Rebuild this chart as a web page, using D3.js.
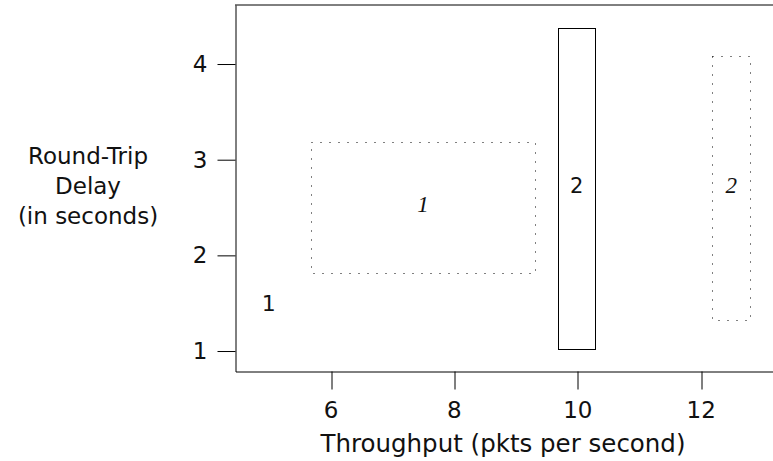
<!DOCTYPE html>
<html>
<head>
<meta charset="utf-8">
<script src="https://cdn.jsdelivr.net/npm/d3@7"></script>
<style>
  html, body { margin: 0; padding: 0; background: #fff; }
  svg { display: block; }
  text { font-family: "DejaVu Sans", sans-serif; fill: #111; }
</style>
</head>
<body>
<svg id="chart" width="773" height="461"></svg>
<script>
// ---- data ----
const xTicks = [6, 8, 10, 12];
const yTicks = [1, 2, 3, 4];
const xTitle = "Throughput (pkts per second)";
const yTitle = ["Round-Trip", "Delay", "(in seconds)"];

// regions: throughput range [x0,x1], delay range [y0,y1]
const regionLabels = ["1", "2", "2"];
const regionX0 = [5.69, 9.69, 12.19];
const regionX1 = [9.31, 10.29, 12.80];
const regionY0 = [1.82, 1.02, 1.32];
const regionY1 = [3.19, 4.38, 4.08];
const regionStyle = ["dotted", "solid", "dotted"];

// single labelled point
const pointLabels = ["1"];
const pointX = [5.0];
const pointY = [1.5];

// ---- drawing ----
const svg = d3.select("#chart");
const x = d3.scaleLinear().domain([4.46, 13.18]).range([235.5, 773.5]);
const y = d3.scaleLinear().domain([0.786, 4.617]).range([371.5, 5]);
const px = v => Math.round(x(v)) + 0.5;
const py = v => Math.round(y(v)) + 0.5;

// top frame line
svg.append("line")
  .attr("x1", 235).attr("x2", 773)
  .attr("y1", 5).attr("y2", 5)
  .attr("stroke", "#000").attr("stroke-width", 1);

const xAxis = svg.append("g")
  .attr("transform", "translate(0,371.5)")
  .call(d3.axisBottom(x).tickValues(xTicks).tickFormat(d3.format("d"))
        .tickSize(18).tickSizeOuter(0).tickPadding(12));
xAxis.selectAll("text").style("font-size", "23px").attr("fill", "#111");
xAxis.selectAll("line").attr("stroke", "#000").attr("transform", d => `translate(${px(d) - x(d)},0)`);
xAxis.select(".domain").attr("stroke", "#000");

const yAxis = svg.append("g")
  .attr("transform", "translate(235.5,0)")
  .call(d3.axisLeft(y).tickValues(yTicks).tickFormat(d3.format("d"))
        .tickSize(18).tickSizeOuter(0).tickPadding(10));
yAxis.selectAll("text").style("font-size", "23px").attr("fill", "#111");
yAxis.selectAll("line").attr("stroke", "#000");
yAxis.select(".domain").attr("stroke", "#000");

// axis titles
svg.append("text")
  .attr("x", 503).attr("y", 452)
  .attr("text-anchor", "middle")
  .style("font-size", "24.5px")
  .text(xTitle);

svg.append("g").selectAll("text").data(yTitle).join("text")
  .attr("x", 88).attr("y", (d, i) => 164 + i * 30)
  .attr("text-anchor", "middle")
  .style("font-size", "23px")
  .text(d => d);

// regions
const regions = regionLabels.map((l, i) => ({
  label: l, x0: regionX0[i], x1: regionX1[i], y0: regionY0[i], y1: regionY1[i], style: regionStyle[i]
}));

svg.append("g").selectAll("rect").data(regions).join("rect")
  .attr("x", d => px(d.x0))
  .attr("y", d => py(d.y1))
  .attr("width", d => px(d.x1) - px(d.x0))
  .attr("height", d => py(d.y0) - py(d.y1))
  .attr("fill", "none")
  .attr("stroke", "#000")
  .attr("stroke-width", 1)
  .attr("stroke-dasharray", d => d.style === "dotted" ? "1,8" : null);

svg.append("g").selectAll("text").data(regions).join("text")
  .attr("x", d => x((d.x0 + d.x1) / 2))
  .attr("y", d => y((d.y0 + d.y1) / 2) - 3)
  .attr("dy", "0.35em")
  .attr("text-anchor", "middle")
  .style("font-family", d => d.style === "dotted" ? "'Liberation Serif', serif" : null)
  .style("font-style", d => d.style === "dotted" ? "italic" : null)
  .style("font-size", d => d.style === "dotted" ? "23px" : "21px")
  .text(d => d.label);

// point label
svg.append("g").selectAll("text").data(pointLabels).join("text")
  .attr("x", (d, i) => x(pointX[i]))
  .attr("y", (d, i) => y(pointY[i]))
  .attr("dy", "0.35em")
  .attr("text-anchor", "middle")
  .style("font-size", "22px")
  .text(d => d);
</script>
</body>
</html>
